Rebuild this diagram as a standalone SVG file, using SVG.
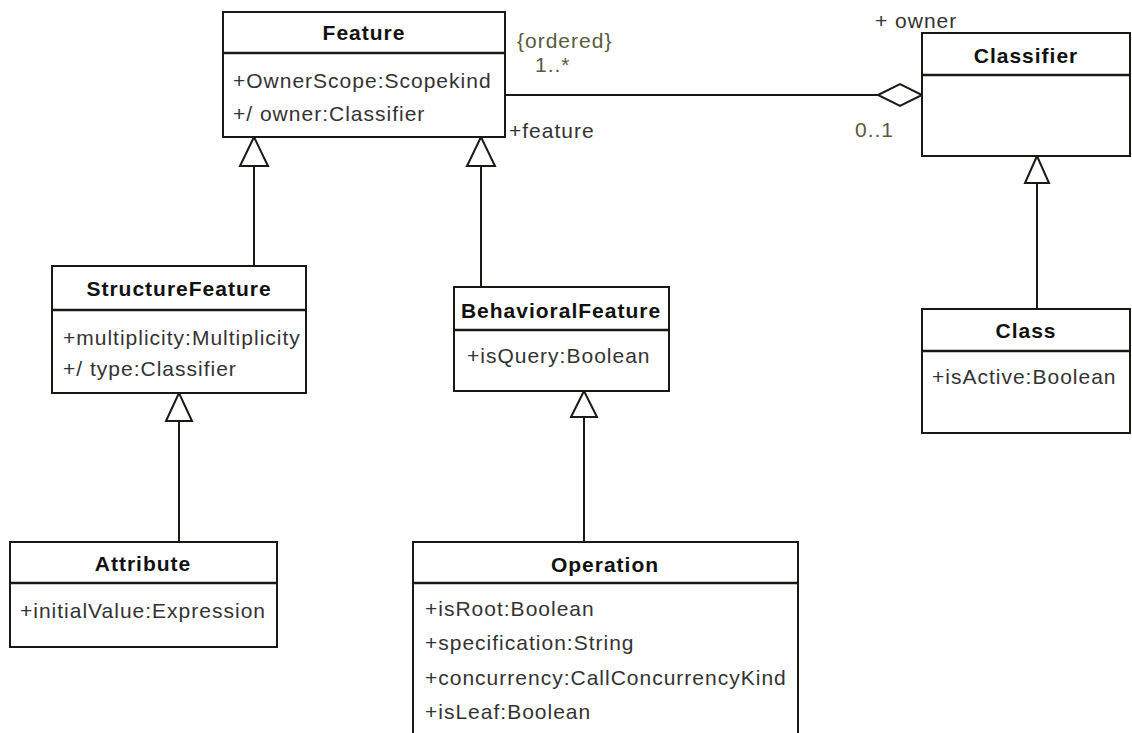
<svg xmlns="http://www.w3.org/2000/svg" width="1132" height="733" viewBox="0 0 1132 733">
<style>
.box{fill:#fff;stroke:#1a1a14;stroke-width:2}
.sep{stroke:#1a1a14;stroke-width:2.5}
.title{font-family:"Liberation Sans",Arial,sans-serif;font-size:21px;font-weight:bold;fill:#111;text-anchor:middle;letter-spacing:1px}
.attr{font-family:"Liberation Sans",Arial,sans-serif;font-size:21px;fill:#333;letter-spacing:1px}
.lbl{font-family:"Liberation Sans",Arial,sans-serif;font-size:21px;fill:#5a5a3c;letter-spacing:1px}
.role{font-family:"Liberation Sans",Arial,sans-serif;font-size:21px;fill:#333;letter-spacing:1px}
.ln{stroke:#1a1a14;stroke-width:2;fill:none}
.tri{fill:#fff;stroke:#1a1a14;stroke-width:2;stroke-linejoin:miter}
</style>
<rect width="1132" height="733" fill="#fff"/>
<g id="connectors">
  <line class="ln" x1="254" y1="266" x2="254" y2="166"/>
  <polygon class="tri" points="254,137 240,166 268,166"/>
  <line class="ln" x1="481" y1="287" x2="481" y2="166"/>
  <polygon class="tri" points="481,137 467,166 495,166"/>
  <line class="ln" x1="179" y1="542" x2="179" y2="421"/>
  <polygon class="tri" points="179,393 166,421 192,421"/>
  <line class="ln" x1="584" y1="542" x2="584" y2="417"/>
  <polygon class="tri" points="584,391 571,417 597,417"/>
  <line class="ln" x1="1037" y1="309" x2="1037" y2="183"/>
  <polygon class="tri" points="1037,156 1025,183 1049,183"/>
  <line class="ln" x1="505" y1="95" x2="878" y2="95"/>
  <polygon class="tri" points="878,95 900,84 922,95 900,106"/>
  <text class="lbl" x="517" y="48">{ordered}</text>
  <text class="lbl" x="535" y="72">1..*</text>
  <text class="role" x="509" y="138">+feature</text>
  <text class="role" x="875" y="28">+ owner</text>
  <text class="lbl" x="855" y="137">0..1</text>
</g>
<g id="Feature">
  <rect class="box" x="223" y="12" width="282" height="125"/>
  <line class="sep" x1="223" y1="53" x2="505" y2="53"/>
  <text class="title" x="364" y="40">Feature</text>
  <text class="attr" x="233" y="88">+OwnerScope:Scopekind</text>
  <text class="attr" x="233" y="121">+/ owner:Classifier</text>
</g>
<g id="Classifier">
  <rect class="box" x="922" y="33" width="208" height="123"/>
  <line class="sep" x1="922" y1="75" x2="1130" y2="75"/>
  <text class="title" x="1026" y="63">Classifier</text>
</g>
<g id="StructureFeature">
  <rect class="box" x="52" y="266" width="254" height="127"/>
  <line class="sep" x1="52" y1="310" x2="306" y2="310"/>
  <text class="title" x="179" y="296">StructureFeature</text>
  <text class="attr" x="63" y="345">+multiplicity:Multiplicity</text>
  <text class="attr" x="63" y="376">+/ type:Classifier</text>
</g>
<g id="BehavioralFeature">
  <rect class="box" x="454" y="287" width="215" height="104"/>
  <line class="sep" x1="454" y1="330" x2="669" y2="330"/>
  <text class="title" x="561" y="318">BehavioralFeature</text>
  <text class="attr" x="467" y="363">+isQuery:Boolean</text>
</g>
<g id="Class">
  <rect class="box" x="922" y="309" width="208" height="124"/>
  <line class="sep" x1="922" y1="351" x2="1130" y2="351"/>
  <text class="title" x="1026" y="338">Class</text>
  <text class="attr" x="932" y="384">+isActive:Boolean</text>
</g>
<g id="Attribute">
  <rect class="box" x="10" y="542" width="267" height="105"/>
  <line class="sep" x1="10" y1="583" x2="277" y2="583"/>
  <text class="title" x="143" y="571">Attribute</text>
  <text class="attr" x="20" y="618">+initialValue:Expression</text>
</g>
<g id="Operation">
  <rect class="box" x="413" y="542" width="385" height="210"/>
  <line class="sep" x1="413" y1="583" x2="798" y2="583"/>
  <text class="title" x="605" y="572">Operation</text>
  <text class="attr" x="425" y="616">+isRoot:Boolean</text>
  <text class="attr" x="425" y="650">+specification:String</text>
  <text class="attr" x="425" y="685">+concurrency:CallConcurrencyKind</text>
  <text class="attr" x="425" y="719">+isLeaf:Boolean</text>
</g>
</svg>
